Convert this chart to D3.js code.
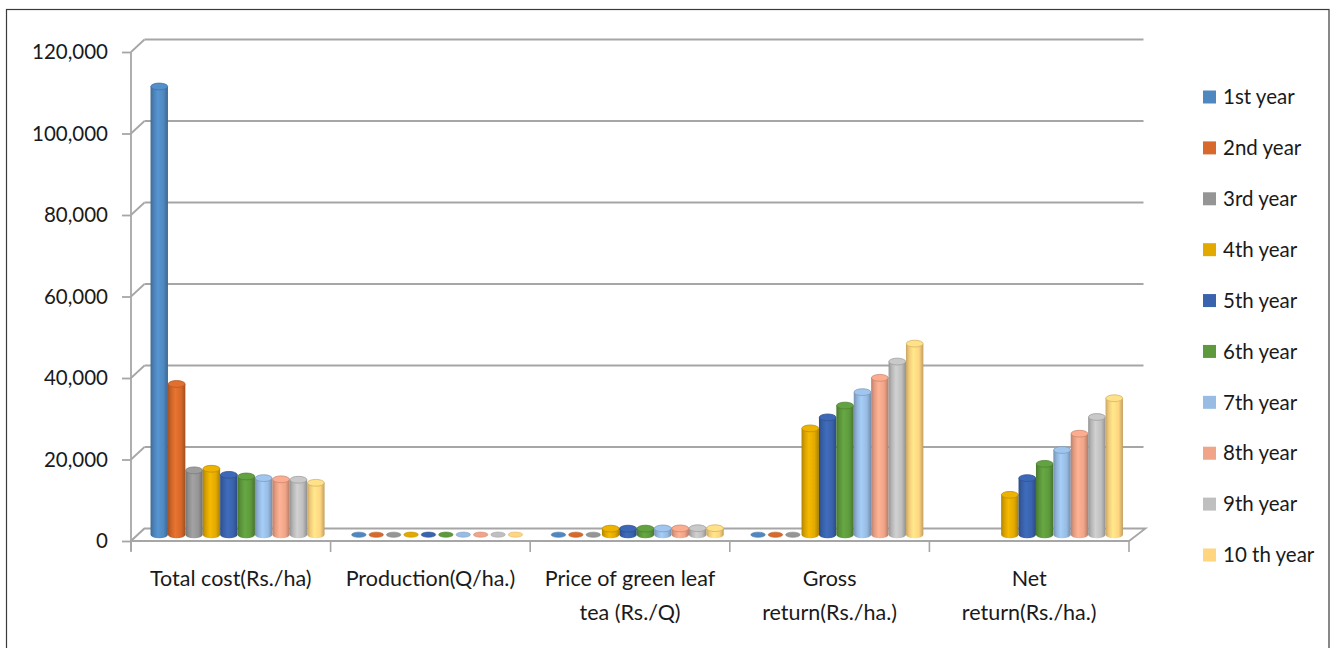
<!DOCTYPE html>
<html>
<head>
<meta charset="utf-8">
<script src="https://cdn.jsdelivr.net/npm/d3@7"></script>
<style>
  html, body { margin: 0; padding: 0; background: #fff; }
  svg { display: block; }
  text { font-family: Lato, "Open Sans", sans-serif; fill: #1a1a1a; }
</style>
</head>
<body>
<svg id="chart" width="1331" height="648"></svg>
<script>
// ---- data ----
const categories = [
  ["Total cost(Rs./ha)"],
  ["Production(Q/ha.)"],
  ["Price of green leaf", "tea (Rs./Q)"],
  ["Gross", "return(Rs./ha.)"],
  ["Net", "return(Rs./ha.)"]
];
const seriesNames = ["1st year", "2nd year", "3rd year", "4th year", "5th year",
                     "6th year", "7th year", "8th year", "9th year", "10 th year"];
// values per series, in category order: total cost, production, price, gross return, net return
const year1  = [110000, 0,    0,    0,     null];
const year2  = [37000,  0,    0,    0,     null];
const year3  = [15800,  0,    0,    0,     null];
const year4  = [16200,  17.4, 1500, 26100, 9800];
const year5  = [14700,  19.2, 1500, 28800, 13900];
const year6  = [14300,  21.1, 1500, 31700, 17400];
const year7  = [13900,  22.6, 1550, 35000, 20800];
const year8  = [13600,  24.8, 1550, 38500, 24800];
const year9  = [13500,  26.6, 1600, 42500, 28900];
const year10 = [12750,  29.3, 1600, 46900, 33500];
const seriesValues = [year1, year2, year3, year4, year5, year6, year7, year8, year9, year10];
const seriesColors = ["#4F88C0", "#D6692B", "#959595", "#E2AA00", "#3A63AD",
                      "#5E9A3D", "#98BCE3", "#F0A488", "#BFBFBF", "#FFD580"];
const yTicks = [0, 20000, 40000, 60000, 80000, 100000, 120000];

// ---- layout ----
const svg = d3.select("#chart");
const depthX = 13.5, depthY = -12.5;   // offset of the back wall relative to the front plane
const plotLeft = 131, plotRight = 1129;

const x0 = d3.scaleBand().domain(d3.range(categories.length)).range([plotLeft, plotRight]);
const x1 = d3.scaleBand().domain(d3.range(seriesNames.length))
  .range([0, x0.bandwidth()]).paddingInner(0).paddingOuter(0.735);
const yFront = d3.scaleLinear().domain([0, 120000]).range([541, 52]);
const yBack = v => yFront(v) + depthY;
const yMid = v => yFront(v) + depthY / 2;

// outer frame
svg.append("rect").attr("x", 6.5).attr("y", 9.5).attr("width", 1322.5).attr("height", 660)
  .attr("fill", "none").attr("stroke", "#3a3a3a").attr("stroke-width", 1.2);

const gridColor = "#A6A6A6";
const grid = svg.append("g");

// back-wall gridlines and the left-wall diagonals
yTicks.forEach(t => {
  if (t > 0) {
    grid.append("line")
      .attr("x1", plotLeft + depthX).attr("x2", plotRight + depthX + 1)
      .attr("y1", yBack(t)).attr("y2", yBack(t))
      .attr("stroke", gridColor).attr("stroke-width", 2.2);
  }
  grid.append("line")
    .attr("x1", plotLeft).attr("y1", yFront(t))
    .attr("x2", plotLeft + depthX).attr("y2", yBack(t))
    .attr("stroke", gridColor).attr("stroke-width", 1.8);
});

// floor
const floorPts = [
  [plotLeft, yFront(0)], [plotRight, yFront(0)],
  [plotRight + depthX + 3, yBack(0)], [plotLeft + depthX, yBack(0)]
];
grid.append("path")
  .attr("d", "M" + floorPts.map(p => p.join(",")).join("L") + "Z")
  .attr("fill", "#fff").attr("stroke", gridColor).attr("stroke-width", 1.8);

// vertical value axis with tick marks
grid.append("line").attr("x1", plotLeft).attr("x2", plotLeft)
  .attr("y1", yFront(120000)).attr("y2", yFront(0) + 10)
  .attr("stroke", gridColor).attr("stroke-width", 1.8);

const yAxis = d3.axisLeft(yFront).tickValues(yTicks).tickSize(9).tickPadding(14)
  .tickFormat(d3.format(","));
const yAxisG = svg.append("g").attr("transform", `translate(${plotLeft},0)`).call(yAxis);
yAxisG.select(".domain").remove();
yAxisG.selectAll(".tick line").attr("stroke", gridColor).attr("stroke-width", 1.8);
yAxisG.selectAll(".tick text").style("font-size", "20.5px").attr("fill", "#1a1a1a")
  .attr("font-family", "Lato, sans-serif");

// category axis: tick marks at band boundaries and wrapped labels
const xAxisG = svg.append("g");
d3.range(categories.length + 1).forEach(i => {
  const xx = i < categories.length ? x0(i) : plotRight;
  xAxisG.append("line").attr("x1", xx).attr("x2", xx)
    .attr("y1", yFront(0)).attr("y2", yFront(0) + 11)
    .attr("stroke", gridColor).attr("stroke-width", 1.6);
});
categories.forEach((lines, i) => {
  const t = xAxisG.append("text")
    .attr("x", x0(i) + x0.bandwidth() / 2)
    .attr("y", 586)
    .attr("text-anchor", "middle")
    .style("font-size", "21.5px");
  lines.forEach((ln, k) => {
    t.append("tspan").attr("x", x0(i) + x0.bandwidth() / 2)
      .attr("dy", k === 0 ? 0 : 34).text(ln);
  });
});

// gradients giving each column a rounded, lit look
const defs = svg.append("defs");
seriesColors.forEach((c, i) => {
  const base = d3.color(c);
  const g = defs.append("linearGradient").attr("id", "body" + i)
    .attr("x1", "0%").attr("x2", "100%").attr("y1", "0%").attr("y2", "0%");
  g.append("stop").attr("offset", "0%").attr("stop-color", base.darker(0.7));
  g.append("stop").attr("offset", "18%").attr("stop-color", base.darker(0.15));
  g.append("stop").attr("offset", "42%").attr("stop-color", base.brighter(0.25));
  g.append("stop").attr("offset", "75%").attr("stop-color", base);
  g.append("stop").attr("offset", "100%").attr("stop-color", base.darker(0.8));
});

// cylinders
const bars = svg.append("g");
const ry = 3.4;
categories.forEach((_, ci) => {
  seriesValues.forEach((vals, si) => {
    const v = vals[ci];
    if (v === null || v === undefined) return;
    const cx = x0(ci) + x1(si) + x1.bandwidth() / 2 + depthX / 2;
    const rx = x1.bandwidth() / 2;
    const yb = yMid(0), yt = yMid(v);
    const base = d3.color(seriesColors[si]);
    if (yb - yt > 0.5) {
      bars.append("path")
        .attr("d", `M${cx - rx},${yt} L${cx - rx},${yb} A${rx},${ry} 0 0 0 ${cx + rx},${yb} L${cx + rx},${yt} Z`)
        .attr("fill", `url(#body${si})`);
      bars.append("ellipse")
        .attr("cx", cx).attr("cy", yt).attr("rx", rx - 0.3).attr("ry", ry)
        .attr("fill", base.brighter(0.15))
        .attr("stroke", base.darker(0.5)).attr("stroke-width", 0.8);
    } else {
      // a zero value shows as a flat disc on the floor
      bars.append("ellipse")
        .attr("cx", cx).attr("cy", yt).attr("rx", rx - 1.5).attr("ry", 2.6)
        .attr("fill", base)
        .attr("stroke", base.darker(0.4)).attr("stroke-width", 0.6);
    }
  });
});

// legend
const legend = svg.append("g");
const legendY = d3.scalePoint().domain(seriesNames).range([97, 555]);
seriesNames.forEach((name, i) => {
  const yy = legendY(name);
  legend.append("rect").attr("x", 1203).attr("y", yy - 6.5)
    .attr("width", 13).attr("height", 13).attr("fill", seriesColors[i]);
  legend.append("text").attr("x", 1223).attr("y", yy).attr("dy", "0.35em")
    .style("font-size", "20.5px").text(name);
});
</script>
</body>
</html>
